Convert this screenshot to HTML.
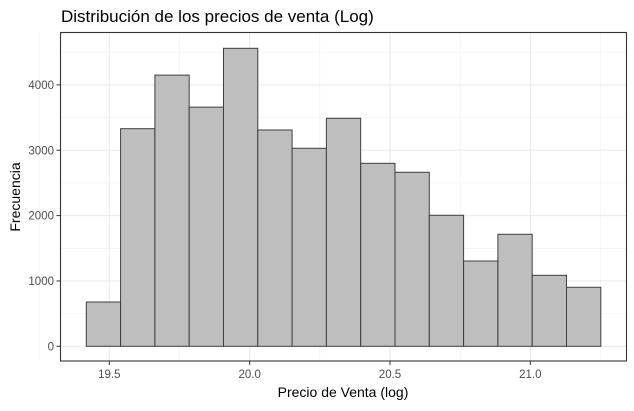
<!DOCTYPE html>
<html><head><meta charset="utf-8"><style>
body{margin:0;background:#fff;}
svg text{font-family:"Liberation Sans",Arial,sans-serif;}
</style></head><body>
<svg id="chart" width="634" height="406">
<text x="61" y="22" font-size="17" fill="#000">Distribución de los precios de venta (Log)</text>
<g id="grid"></g><g id="bars"></g><g id="axes"></g>
<rect x="60.5" y="32.5" width="566" height="328.5" fill="none" stroke="#333" stroke-width="1.1"/>
<text x="343" y="397" font-size="14" text-anchor="middle" fill="#000">Precio de Venta (log)</text>
<text transform="translate(20,197) rotate(-90)" font-size="14" text-anchor="middle" fill="#000">Frecuencia</text>
</svg>
<script>
const binStart = 19.418;
const binWidth = 0.1222;
const counts = [678, 3330, 4150, 3660, 4560, 3310, 3030, 3489, 2800, 2663, 2005, 1305, 1714, 1086, 903];
const xTicks = [19.5, 20.0, 20.5, 21.0];
const xTickLabels = ["19.5", "20.0", "20.5", "21.0"];
const yTicks = [0, 1000, 2000, 3000, 4000];
const yTickLabels = ["0", "1000", "2000", "3000", "4000"];
const xMinor = [19.25, 19.75, 20.25, 20.75, 21.25];
const yMinor = [500, 1500, 2500, 3500, 4500];

const ns = "http://www.w3.org/2000/svg";
function xs(v){return 109.3 + (v - 19.5) * 280.7;}
function ys(v){return 346.3 - v * 0.06535;}
function mk(tag, attrs, parent){const e=document.createElementNS(ns,tag);for(const k in attrs)e.setAttribute(k,attrs[k]);document.getElementById(parent).appendChild(e);return e;}

xMinor.forEach(v=>{const l=mk("line",{x1:xs(v),x2:xs(v),y1:32.5,y2:361,stroke:"#f0f0f0","stroke-width":0.6},"grid");

});
yMinor.forEach(v=>{const l=mk("line",{x1:60.5,x2:626.5,y1:ys(v),y2:ys(v),stroke:"#f0f0f0","stroke-width":0.6},"grid");

});
xTicks.forEach((v,i)=>{const l=mk("line",{x1:xs(v),x2:xs(v),y1:32.5,y2:361,stroke:"#ebebeb","stroke-width":1.1},"grid");


const t=mk("line",{x1:xs(v),x2:xs(v),y1:361,y2:365,stroke:"#333","stroke-width":1},"axes");


const tx=mk("text",{x:xs(v),y:378,"font-size":11.5,"text-anchor":"middle",fill:"#4d4d4d"},"axes");
tx.textContent=xTickLabels[i];

});
yTicks.forEach((v,i)=>{const l=mk("line",{x1:60.5,x2:626.5,y1:ys(v),y2:ys(v),stroke:"#ebebeb","stroke-width":1.1},"grid");


const t=mk("line",{x1:56.5,x2:60.5,y1:ys(v),y2:ys(v),stroke:"#333","stroke-width":1},"axes");


const tx=mk("text",{x:54,y:ys(v)+4,"font-size":11.5,"text-anchor":"end",fill:"#4d4d4d"},"axes");
tx.textContent=yTickLabels[i];

});
counts.forEach((c,i)=>{const x0=xs(binStart+i*binWidth),x1=xs(binStart+(i+1)*binWidth);
const r=mk("rect",{x:x0,y:ys(c),width:x1-x0,height:ys(0)-ys(c),fill:"#bebebe",stroke:"#3f3f3f","stroke-width":1},"bars");

});
</script>
</body></html>
